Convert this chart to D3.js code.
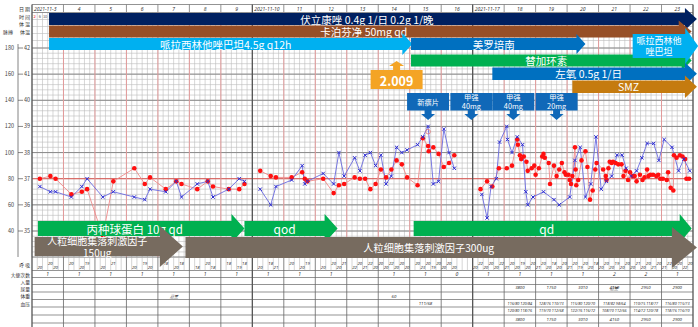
<!DOCTYPE html>
<html lang="zh">
<head>
<meta charset="utf-8">
<title>体温单</title>
<script src="https://cdn.jsdelivr.net/npm/d3@7"></script>
<style>
    body { margin: 0; background: #fff; }
    svg text { font-family: "Noto Sans CJK SC", "Noto Sans", sans-serif; }
    .small { font-family: "Noto Sans", "DejaVu Sans", sans-serif; font-style: italic; }
</style>
</head>
<body>
<div id="chart"></div>
<script>

// ---------- data ----------
const DATES = [
    ["2021-11-3", "4", "5", "6", "7", "8", "9"],
    ["2021-11-10", "11", "12", "13", "14", "15", "16"],
    ["2021-11-17", "18", "19", "20", "21", "22", "23"]
];
const HOURS = [2, 6, 10, 14, 18, 22];
const PULSE_TICKS = [180, 160, 140, 120, 100, 80, 60, 40];
const TEMP_TICKS = [42, 41, 40, 39, 38, 37, 36, 35];

// temperature (blue x): [hours since 2021-11-3 00:00, °C]
const temp1 = [[6,36.7],[14,36.5],[18,36.5],[30,36.3],[38,36.7],[42,37.0],[54,36.3],[62,36.5],
    [78,36.3],[86,36.2],[90,36.6],[102,36.5],[110,36.9],[114,36.3],[126,36.8],[134,36.9],[138,36.3],
    [150,36.6],[158,37.0],[162,36.9]];
const temp2 = [[174,36.6],[182,36.0],[186,36.7],[198,36.95],[206,37.5],[208,36.8],[210,36.9],
    [222,37.2],[230,36.8],[234,38.0],[238,37.1],[246,37.8],[250,37.3],[254,37.9],[258,38.0],[262,37.5],
    [266,37.9],[270,36.8],[274,37.1],[278,38.2],[282,38.0],[286,38.1],[294,38.3],[298,38.6],[302,39.0],
    [306,36.8],[310,36.9],[314,38.9],[318,38.0],[322,37.4]];
const temp3 = [[343,36.4],[347,35.5],[350,36.7],[354,37.0],[356.5,38.4],[362,39.0],[362.5,38.5],
    [366,38.0],[370,38.6],[374,38.3],[376.5,36.5],[378,36.0],[382,36.3],[390,36.5],[398,36.2],[402,36.0],
    [410,36.3],[414,37.7],[418,38.2],[422,36.3],[426,36.8],[430,38.6],[434,36.6],[438,36.9],[442,37.1],
    [446,37.9],[450,37.9],[453,37.4],[457,37.1],[461,37.3],[465,37.8],[469,38.35],[474,38.35],[478,37.7],
    [482,38.5],[488,38.2],[493,37.3],[497,37.75],[501.5,37.3]];

// pulse (red dots): [hours, beats/min]
const pulse1 = [[6,80],[14,82],[18,80],[30,68],[38,70],[42,72],[54,36],[62,78],[78,88],[86,76],[90,81],
    [102,72],[110,78],[114,76],[126,72],[134,78],[138,74],[150,72],[158,72],[162,76]];
const pulse2 = [[174,86],[182,82],[186,81],[198,81],[206,85],[208,80],[210,78],[222,80],[230,69],[234,75],
    [238,76],[246,81],[250,80],[254,80],[258,72],[262,76],[266,87],[270,81],[274,87],[278,94],[282,91],
    [286,81],[294,75],[298,111],[302,105],[302.5,101],[306,104],[310,99],[314,89],[318,92],[322,98]];
const pulse3 = [[342,72],[347,78],[351,74],[356,88],[362,88],[366,90],[370,110],[370.5,106],[372,98],
    [373,95],[375,97],[377,93],[378,86],[381,88],[383,90],[384,83],[386.5,88],[389,97],[390,99],[391,96],
    [394,92],[395,76],[398,90],[400,82],[402,87],[404,92],[406,85],[407,83],[409,83],[410,79],[411,76],
    [412,82],[414,104],[414.5,87],[415,75],[416.5,79],[419,94],[422,101],[423.5,89],[425.5,64],[427.5,71],
    [429.5,87],[430.5,92],[435.5,87],[437.5,82],[438,79],[439.5,88],[440.5,93],[442,92],[443,93],[445,92],
    [447,91],[449.5,91],[451,82],[452.5,86],[454.5,79],[456,85],[458,82],[459.5,82],[461,78],[463.5,83],
    [465.5,79],[467,81],[469,87],[470,82],[471.5,83],[473.5,83],[476,82],[477.5,83],[479,80],[481,80],
    [484,79],[485,85],[487,73],[489,71],[489.5,98],[491.5,96],[494,98],[496,97],[498,95],[499,80],[501,80]];
const pulseRecheck = [[302,116]];

// respiration
const resp1 = [[6,20],[14,20],[18,20],[30,20],[38,20],[42,19],[54,20],[62,21],[78,20],[86,19],[90,20],
    [102,18],[110,20],[114,18],[126,18],[134,20],[138,18],[150,18],[158,19],[162,18]];
const resp2 = [[174,20],[182,18],[186,21],[198,20],[206,20],[210,19],[222,20],[230,20],[234,20],[238,21],
    [246,22],[250,20],[254,21],[258,22],[262,20],[266,20],[270,20],[274,22],[278,20],[282,20],[286,20],
    [294,20],[298,23],[302,20],[306,19],[310,20],[314,20],[318,20],[322,20]];
const resp3 = [[20,22,20,20,20,22],[21,20,20,19,20,20],[21,20,20,18,20,20],[21,20,19,20,20,18],
    [20,20,20,19,20,20],[20,21,20,20,21,20],[21,22,20,20,22,20]];   // days 14..20, by HOURS slot

const STOOL = [1,1,1,1,1,1,1, 1,1,1,null,1,1,0, 1,1,1,1,2,2,1];
const URINE3 = [null, 3800, 1750, 3010, 4150, 2950, 2900];
const BP3_A = ["", "116/80 120/84", "128/76 110/73", "115/80 120/70", "118/82 98/64", "110/75 118/77", "116/80 115/73"];
const BP3_B = ["", "120/80 118/76", "119/70 112/68", "122/76 116/72", "108/70 112/66", "114/72 120/78", "118/76 116/70"];
const NOTES = [[4, 2, "总量"], [11, 2, "60"], [12, 3, "111/68"], [18, 1, "总量"]];   // [day, row, text]

// drug bars: label, from hour, to hour
const ARROW_LABELS = ["伏立康唑 0.4g 1/日 0.2g 1/晚", "卡泊芬净 50mg qd", "哌拉西林他唑巴坦4.5g q12h",
    "美罗培南", "替加环素", "左氧 0.5g 1/日", "SMZ", "哌拉西林他\n唑巴坦",
    "丙种球蛋白 10g qd", "qod", "qd", "人粒细胞集落刺激因子\n150ug", "人粒细胞集落刺激因子300ug"];
const ARROW_FROM = [13, 13, 13, 289, 289, 351, 412, 458, 4.5, 162, 291, 2, 117];
const ARROW_TO   = [507, 503, 290, 422, 503, 507, 507, 508, 162, 233, 503, 115, 507];

const CALLOUT_LABELS = ["新癀片", "甲强\n40mg", "甲强\n40mg", "甲强\n20mg"];
const CALLOUT_AT = [302, 335, 367, 400];
const LAB_VALUE = "2.009", LAB_AT = 278;

// ---------- styles ----------
// [yTop, yBottom, head length, head overshoot, colour, font size, line height]
const ARROW_STYLE = [
    [13, 25, 12, 5, "#002060", 10.5, 0],
    [25.5, 37.5, 13, 5, "#974f27", 10.5, 0],
    [38, 50, 10, 5, "#00b0f0", 10.5, 0],
    [38, 50, 9, 4, "#0070c0", 10.5, 0],
    [54.5, 66.5, 10, 4, "#00b050", 10.5, 0],
    [67.5, 80, 12, 5, "#0070c0", 10.5, 0],
    [80.5, 93, 12, 5, "#c57b0f", 10.5, 0],
    [34, 58, 13, 6, "#00b0f0", 9, 11],
    [221, 236, 13, 7, "#00b050", 11.5, 0],
    [221, 236, 13, 7, "#00b050", 12, 0],
    [221, 236, 12, 7, "#00b050", 12, 0],
    [237, 256, 23, 11, "#776b5f", 10, 11.5],
    [237, 258, 25, 10, "#776b5f", 10.2, 0]
];

const WIDTH = 698, HEIGHT = 327;
const X0 = 32, X1 = 693;
const TOP = 4.5, GRID_TOP = 12.5, GRID_BOT = 257, TABLE_BOT = 327;
const TABLE_ROWS = [257, 270.5, 277.5, 284.5, 292, 299.5, 307, 315, 323];

let x = d3.scaleLinear().domain([0, 504]).range([X0, X1]);
let yT = d3.scaleLinear().domain([35, 42]).range([231, 48]);
let yP = d3.scaleLinear().domain([40, 180]).range([231, 48]);

let svg = d3.select("#chart").append("svg")
    .attr("width", WIDTH)
    .attr("height", HEIGHT);

// ---------- grid ----------
let grid = svg.append("g");

grid.selectAll(".vfine").data(d3.range(0, 505, 4)).join("line")
    .attr("x1", d => x(d)).attr("x2", d => x(d))
    .attr("y1", GRID_TOP).attr("y2", GRID_BOT)
    .attr("stroke", "#bcbcbc").attr("stroke-width", 0.6);

grid.selectAll(".hfine").data(d3.range(34, 42.01, 0.2)).join("line")
    .attr("x1", X0).attr("x2", X1)
    .attr("y1", d => yT(d)).attr("y2", d => yT(d))
    .attr("stroke", "#bcbcbc").attr("stroke-width", 0.6);

grid.selectAll(".hhead").data([TOP, GRID_TOP, 19.5, 26.5, 33.5, 40.5]).join("line")
    .attr("x1", X0).attr("x2", X1)
    .attr("y1", d => d).attr("y2", d => d)
    .attr("stroke", d => d <= GRID_TOP ? "#777" : "#bcbcbc")
    .attr("stroke-width", d => d <= GRID_TOP ? 0.8 : 0.6);

grid.selectAll(".hdeg").data(TEMP_TICKS).join("line")
    .attr("x1", X0).attr("x2", X1)
    .attr("y1", d => yT(d)).attr("y2", d => yT(d))
    .attr("stroke", d => d == 37 ? "#d9534f" : "#8a8a8a")
    .attr("stroke-width", 1);

let dayLines = d3.range(1, 21).filter(d => d % 7 != 0);
grid.selectAll(".vday").data(dayLines).join("line")
    .attr("x1", d => x(d * 24)).attr("x2", d => x(d * 24))
    .attr("y1", GRID_TOP).attr("y2", GRID_BOT)
    .attr("stroke", "#e29a9a").attr("stroke-width", 1);
grid.selectAll(".vdayhead").data(dayLines).join("line")
    .attr("x1", d => x(d * 24)).attr("x2", d => x(d * 24))
    .attr("y1", TOP).attr("y2", GRID_TOP)
    .attr("stroke", "#777").attr("stroke-width", 0.8);

// table under the grid
grid.selectAll(".trow").data(TABLE_ROWS).join("line")
    .attr("x1", X0).attr("x2", X1)
    .attr("y1", d => d).attr("y2", d => d)
    .attr("stroke", "#666").attr("stroke-width", 0.7);
grid.selectAll(".tslot").data(d3.range(4, 504, 4).filter(h => h % 24 != 0)).join("line")
    .attr("x1", d => x(d)).attr("x2", d => x(d))
    .attr("y1", TABLE_ROWS[0]).attr("y2", TABLE_ROWS[1])
    .attr("stroke", "#aaa").attr("stroke-width", 0.5);
grid.selectAll(".tday").data(dayLines).join("line")
    .attr("x1", d => x(d * 24)).attr("x2", d => x(d * 24))
    .attr("y1", GRID_BOT).attr("y2", TABLE_BOT)
    .attr("stroke", "#666").attr("stroke-width", 0.8);

grid.selectAll(".vpanel").data([0, 7, 14, 21]).join("line")
    .attr("x1", d => x(d * 24)).attr("x2", d => x(d * 24))
    .attr("y1", TOP).attr("y2", TABLE_BOT)
    .attr("stroke", "#555").attr("stroke-width", 1.3);

// left scale
grid.append("line")
    .attr("x1", 18).attr("x2", 18).attr("y1", 44).attr("y2", GRID_BOT)
    .attr("stroke", "#666").attr("stroke-width", 0.8);
grid.selectAll(".tick").data(TEMP_TICKS).join("line")
    .attr("x1", 18).attr("x2", 23)
    .attr("y1", d => yT(d)).attr("y2", d => yT(d))
    .attr("stroke", "#555").attr("stroke-width", 0.7);
grid.selectAll(".plab").data(PULSE_TICKS).join("text")
    .attr("x", 14).attr("y", d => yP(d))
    .attr("text-anchor", "end").attr("dominant-baseline", "central")
    .attr("font-size", 5.5).attr("fill", "#444")
    .text(d => d);
grid.selectAll(".tlab").data(TEMP_TICKS).join("text")
    .attr("x", 24).attr("y", d => yT(d))
    .attr("dominant-baseline", "central")
    .attr("font-size", 5.5).attr("fill", "#444")
    .text(d => d);

// header labels in left column
let leftLabels = [["日  期", 8.5], ["时  间", 16], ["体  温", 23.5], ["体温", 31.5]];
grid.selectAll(".llab").data(leftLabels).join("text")
    .attr("x", 30).attr("y", d => d[1])
    .attr("text-anchor", "end").attr("dominant-baseline", "central")
    .attr("font-size", 5).attr("fill", "#333")
    .text(d => d[0]);
grid.append("text").attr("x", 3).attr("y", 31.5).attr("dominant-baseline", "central")
    .attr("font-size", 5).attr("fill", "#333").text("脉搏");

let tableLabels = ["呼  吸", "大便次数", "入量", "尿量", "体重", "血压"];
grid.selectAll(".blab").data(tableLabels).join("text")
    .attr("x", 30)
    .attr("y", (d, i) => i == 0 ? 264 : (TABLE_ROWS[i] + TABLE_ROWS[i + 1]) / 2)
    .attr("text-anchor", "end").attr("dominant-baseline", "central")
    .attr("font-size", 4.8).attr("fill", "#333")
    .text(d => d);

// dates
DATES.forEach((panel, p) => {
    panel.forEach((label, i) => {
        let day = p * 7 + i;
        grid.append("text")
            .attr("class", "small")
            .attr("x", i == 0 ? x(day * 24) + 2 : x(day * 24 + 12))
            .attr("y", 8.5)
            .attr("text-anchor", i == 0 ? "start" : "middle")
            .attr("dominant-baseline", "central")
            .attr("font-size", 5).attr("fill", "#333")
            .text(label);
    });
});

// hour labels: only the first slots of the first day are left uncovered by the drug bars
HOURS.filter(h => x(h) < x(ARROW_FROM[0])).forEach(h => {
    grid.append("text")
        .attr("x", x(h)).attr("y", 16)
        .attr("text-anchor", "middle").attr("dominant-baseline", "central")
        .attr("font-size", 4).attr("fill", h == 2 ? "#e00" : "#555")
        .text(h);
});

// ---------- series ----------
let series = svg.append("g");
let lineT = d3.line().x(d => x(d[0])).y(d => yT(d[1]));
let lineP = d3.line().x(d => x(d[0])).y(d => yP(d[1]));

let panels = [[temp1, pulse1], [temp2, pulse2], [temp3, pulse3]];
panels.forEach(([temp, pulse]) => {
    series.append("path").datum(pulse)
        .attr("d", lineP).attr("fill", "none")
        .attr("stroke", "#ef8a8a").attr("stroke-width", 0.9);
    series.append("path").datum(temp)
        .attr("d", lineT).attr("fill", "none")
        .attr("stroke", "#6a6ae0").attr("stroke-width", 0.9);
});
panels.forEach(([temp, pulse]) => {
    series.append("g").selectAll("circle").data(pulse).join("circle")
        .attr("cx", d => x(d[0])).attr("cy", d => yP(d[1]))
        .attr("r", 2.3).attr("fill", "#ff1010");
    series.append("g").selectAll("path").data(temp).join("path")
        .attr("transform", d => "translate(" + x(d[0]) + "," + yT(d[1]) + ")")
        .attr("d", "M-1.7,-1.7L1.7,1.7M-1.7,1.7L1.7,-1.7")
        .attr("stroke", "#2b2bd0").attr("stroke-width", 1);
});
series.selectAll(".recheck").data(pulseRecheck).join("circle")
    .attr("cx", d => x(d[0])).attr("cy", d => yP(d[1]))
    .attr("r", 2.3).attr("fill", "none").attr("stroke", "#e57373").attr("stroke-width", 0.8);

// ---------- table values ----------
let table = svg.append("g").attr("class", "small").attr("font-size", 4.3).attr("fill", "#333");

function respText(list) {
    list.forEach((d, i) => {
        table.append("text")
            .attr("class", "small")
            .attr("x", x(d[0])).attr("y", i % 2 ? 262.8 : 267.3)
            .attr("text-anchor", "middle").attr("dominant-baseline", "central")
            .text(d[1]);
    });
}
respText(resp1);
respText(resp2);
resp3.forEach((vals, k) => {
    respText(vals.map((v, j) => [(14 + k) * 24 + HOURS[j], v]));
});

STOOL.forEach((v, day) => {
    if (v === null) return;
    table.append("text").attr("class", "small")
        .attr("x", x(day * 24 + 12)).attr("y", 274)
        .attr("text-anchor", "middle").attr("dominant-baseline", "central")
        .attr("font-size", 5)
        .text(v);
});

URINE3.forEach((v, k) => {
    if (v === null) return;
    let cx = x((14 + k) * 24 + 12);
    table.append("text").attr("class", "small").attr("x", cx).attr("y", 287)
        .attr("text-anchor", "middle").attr("dominant-baseline", "central").text(v);
    table.append("text").attr("class", "small").attr("x", cx).attr("y", 318.5)
        .attr("text-anchor", "middle").attr("dominant-baseline", "central").text(v);
});
BP3_A.forEach((v, k) => {
    table.append("text").attr("class", "small").attr("x", x((14 + k) * 24 + 12)).attr("y", 303)
        .attr("text-anchor", "middle").attr("dominant-baseline", "central").attr("font-size", 3.8).text(v);
});
BP3_B.forEach((v, k) => {
    table.append("text").attr("class", "small").attr("x", x((14 + k) * 24 + 12)).attr("y", 310.5)
        .attr("text-anchor", "middle").attr("dominant-baseline", "central").attr("font-size", 3.8).text(v);
});
NOTES.forEach(([day, row, txt]) => {
    table.append("text").attr("class", "small")
        .attr("x", x(day * 24 + 12))
        .attr("y", (TABLE_ROWS[row + 2] + TABLE_ROWS[row + 3]) / 2)
        .attr("text-anchor", "middle").attr("dominant-baseline", "central")
        .text(txt);
});

// ---------- drug arrows ----------
let arrows = svg.append("g");

function arrowPoints(x0, x1, y0, y1, head, over) {
    let xh = x1 - head, ym = (y0 + y1) / 2;
    return [[x0, y0], [xh, y0], [xh, y0 - over], [x1, ym], [xh, y1 + over], [xh, y1], [x0, y1]];
}

ARROW_LABELS.forEach((label, i) => {
    let [y0, y1, head, over, color, fs, lh] = ARROW_STYLE[i];
    let x0 = x(ARROW_FROM[i]), x1 = x(ARROW_TO[i]);
    arrows.append("polygon")
        .attr("points", arrowPoints(x0, x1, y0, y1, head, over).join(" "))
        .attr("fill", color);
    let lines = label.split("\n");
    let cx = (x0 + x1 - head) / 2, cy = (y0 + y1) / 2;
    let t = arrows.append("text")
        .attr("x", cx)
        .attr("text-anchor", "middle")
        .attr("font-size", fs)
        .attr("fill", "#fff");
    lines.forEach((ln, k) => {
        t.append("tspan")
            .attr("x", cx)
            .attr("y", cy + (k - (lines.length - 1) / 2) * lh)
            .attr("dominant-baseline", "central")
            .text(ln);
    });
});

// lab value callout (points up)
let lx = x(LAB_AT);
arrows.append("polygon")
    .attr("points", [[lx - 26, 89], [lx - 26, 70], [lx - 3.5, 70], [lx - 3.5, 66], [lx - 7.5, 66], [lx, 61],
        [lx + 7.5, 66], [lx + 3.5, 66], [lx + 3.5, 70], [lx + 26, 70], [lx + 26, 89]].join(" "))
    .attr("fill", "#f4a425");
arrows.append("text")
    .attr("x", lx).attr("y", 80)
    .attr("text-anchor", "middle").attr("dominant-baseline", "central")
    .attr("font-size", 12.5).attr("font-weight", "bold").attr("fill", "#fff")
    .attr("font-family", '"Noto Sans", sans-serif')
    .text(LAB_VALUE);

// steroid / NSAID callouts (point down)
CALLOUT_LABELS.forEach((label, i) => {
    let cx = x(CALLOUT_AT[i]);
    arrows.append("polygon")
        .attr("points", [[cx - 21, 93], [cx + 21, 93], [cx + 21, 110.5], [cx + 3.5, 110.5], [cx + 3.5, 114],
            [cx + 7, 114], [cx, 120], [cx - 7, 114], [cx - 3.5, 114], [cx - 3.5, 110.5], [cx - 21, 110.5]].join(" "))
        .attr("fill", "#1068b8");
    let lines = label.split("\n");
    let t = arrows.append("text").attr("text-anchor", "middle").attr("font-size", 7.3).attr("fill", "#fff");
    lines.forEach((ln, k) => {
        t.append("tspan")
            .attr("x", cx)
            .attr("y", lines.length == 1 ? 101.5 : 97.2 + k * 9)
            .attr("dominant-baseline", "central")
            .text(ln);
    });
});

</script>
</body>
</html>
